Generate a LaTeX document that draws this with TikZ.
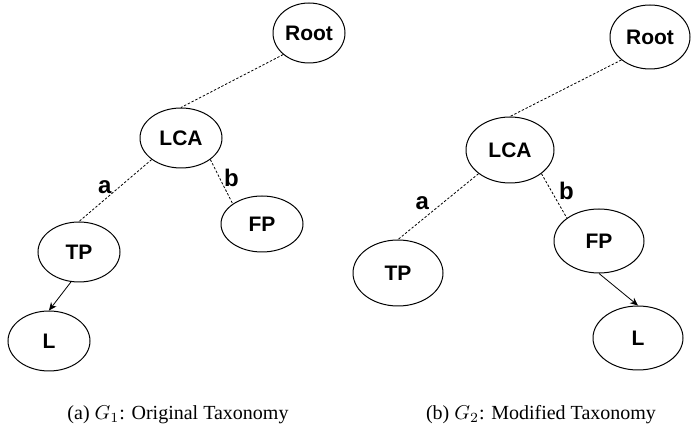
\documentclass[tikz,border=0pt]{standalone}
\usepackage{fontspec}
\setmainfont{Liberation Serif}
\setsansfont{Liberation Sans}
\usetikzlibrary{shapes.geometric, arrows.meta}
\begin{document}
\begin{tikzpicture}[x=0.5pt, y=-0.5pt,
    tnode/.style={draw, ellipse, line width=0.5pt, inner sep=0pt, minimum width=41pt, minimum height=30pt,
        font=\sffamily\bfseries\fontsize{10.5}{12}\selectfont},
    wide/.style={tnode, minimum width=45pt, minimum height=33pt},
    dotline/.style={dash pattern=on 1.2pt off 0.9pt, line width=0.4pt},
    lbl/.style={font=\sffamily\bfseries\fontsize{12}{13}\selectfont, inner sep=2pt}]
    \useasboundingbox (0, 0) rectangle (691, 432);
    % (a) original taxonomy
    \node[tnode, minimum width=36pt] (root1) at (309, 33) {Root};
    \node[tnode] (lca1) at (181, 138) {LCA};
    \node[tnode] (tp1) at (79, 252) {TP};
    \node[tnode, minimum height=28pt] (fp1) at (262, 224) {FP};
    \node[tnode] (l1) at (49, 341) {L};
    \draw[dotline] (root1.south west) -- (lca1.north);
    \draw[dotline] (lca1.south west) -- node[lbl, pos=0.45, left=1.5pt] {a} (tp1.north);
    \draw[dotline] (lca1.south east) -- node[lbl, pos=0.42, right=0pt] {b} (fp1.north west);
    \draw[-{Stealth[length=4pt, width=3.5pt]}, line width=0.4pt] (tp1.255) -- (l1.north);
    \node (capa) at (178, 415) {(a) $G_1$: Original Taxonomy};
    % (b) modified taxonomy
    \node[wide, minimum width=40pt, minimum height=32pt] (root2) at (650, 37) {Root};
    \node[wide, minimum width=44pt] (lca2) at (510, 150) {LCA};
    \node[wide] (tp2) at (398, 273) {TP};
    \node[wide, minimum height=32pt] (fp2) at (599, 241) {FP};
    \node[wide, minimum height=32pt] (l2) at (638, 338) {L};
    \draw[dotline] (root2.south west) -- (lca2.north);
    \draw[dotline] (lca2.south west) -- node[lbl, pos=0.45, left=4.5pt] {a} (tp2.north);
    \draw[dotline] (lca2.south east) -- node[lbl, pos=0.4, right=1.5pt] {b} (fp2.north west);
    \draw[-{Stealth[length=4pt, width=3.5pt]}, line width=0.4pt] (fp2.south) -- (l2.north);
    \node (capb) at (541, 415) {(b) $G_2$: Modified Taxonomy};
\end{tikzpicture}
\end{document}
